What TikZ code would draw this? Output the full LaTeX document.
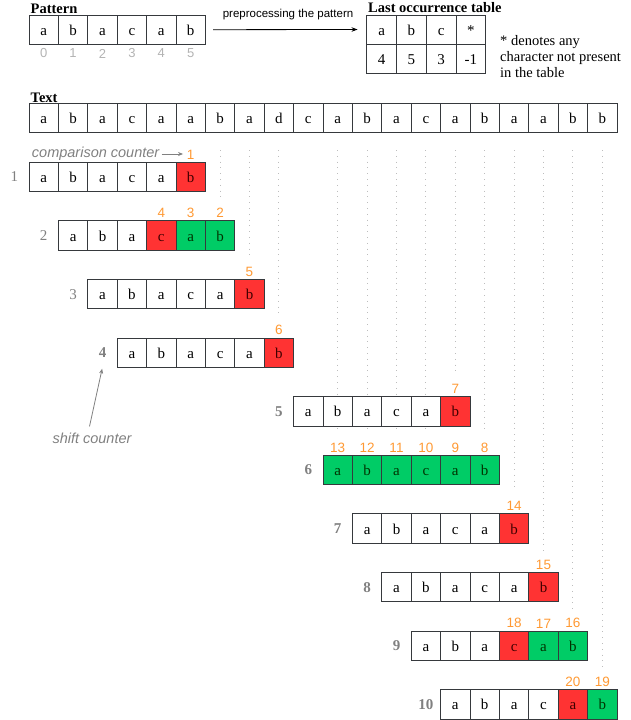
\documentclass[tikz,border=0pt]{standalone}
\usepackage{fontspec}
\setmainfont{Liberation Serif}
\setsansfont{Liberation Sans}
\usetikzlibrary{arrows.meta,positioning}
\definecolor{cellborder}{HTML}{36393D}
\definecolor{redfill}{HTML}{FF3333}
\definecolor{greenfill}{HTML}{00CC66}
\definecolor{orangetxt}{HTML}{FF9933}
\definecolor{graytxt}{HTML}{808080}
\definecolor{lightgraytxt}{HTML}{B3B3B3}
\definecolor{dotgray}{HTML}{BDBDBD}
\newcommand\patrow[3]{%
  \pgfmathsetmacro\rowy{162.3+58.6*(#1-1)+14.7}%
  \node[rownum] (n#1) at ({29+29.4*(#2-0.5)},\rowy) {\ifnum#1>3 \bfseries\fi#1};%
  \foreach \ch/\st [count=\i from 0] in {#3} {%
    \node[\st] (r#1c\i) at ({29+29.4*(#2+\i+0.5)},\rowy) {\ch};%
  }%
}
\begin{document}
\begin{tikzpicture}[x=1pt,y=-1pt,
  pcell/.style={draw=cellborder, line width=0.9pt, fill=white, minimum width=29.4pt, minimum height=29.4pt, inner sep=0pt, text height=11pt, text depth=0pt, font=\fontsize{15}{16}\selectfont},
  rcell/.style={pcell, fill=redfill, text=red!25!black},
  gcell/.style={pcell, fill=greenfill, text=green!20!black},
  tcell/.style={pcell, minimum width=29.75pt, minimum height=29pt},
  cnt/.style={font=\sffamily\fontsize{13.5}{14}\selectfont, text=orangetxt, inner sep=0pt},
  rownum/.style={font=\fontsize{15}{16}\selectfont, text=graytxt, inner sep=0pt},
  idx/.style={font=\sffamily\fontsize{13}{14}\selectfont, text=lightgraytxt, inner sep=0pt},
  heading/.style={font=\bfseries\fontsize{14.5}{16}\selectfont, inner sep=0pt, anchor=base west},
  note/.style={font=\sffamily\itshape\fontsize{14.5}{16}\selectfont, text=graytxt, inner sep=0pt},
  guide/.style={draw=dotgray, line width=0.9pt, dash pattern=on 0.9pt off 4.9pt},
  grayarrow/.style={draw=graytxt, line width=0.8pt, -{Stealth[length=5pt,width=4pt]}},
  blackarrow/.style={draw=black, line width=0.8pt, -{Stealth[length=6pt,width=4.5pt]}},
]
\useasboundingbox (0,0) rectangle (631,720);
% dotted guide lines
\foreach \c/\e in {6/198.9,7/257.5,8/316.1,10/433.3,11/433.3,12/433.3,13/433.3,14/374.7,15/433.3,16/491.9,17/550.5,18/609.1,19/667.7}
  \draw[guide] ({29+29.4*(\c+0.5)},150) -- ({29+29.4*(\c+0.5)},\e);
% pattern
\node[heading] (pattitle) at (30.5,13.5) {Pattern};
\foreach \ch [count=\i from 0] in {a,b,a,c,a,b} {
  \node[pcell] (p\i) at ({29+29.4*(\i+0.5)},29.7) {\ch};
  \node[idx] (pi\i) at ({29+29.4*(\i+0.5)},53.5) {\i};
}
% last occurrence table
\node[heading] (lottitle) at (368,12.7) {Last occurrence table};
\foreach \ch/\v [count=\i from 0] in {a/4,b/5,c/3,*/-1} {
  \node[tcell] (t\i) at ({366.7+29.75*(\i+0.5)},29.5) {\ch};
  \node[tcell] (v\i) at ({366.7+29.75*(\i+0.5)},58.5) {\v};
}
\node[font=\fontsize{14.5}{16}\selectfont, align=left, inner sep=0pt, anchor=north west] (starnote) at (500,35.5)
  {* denotes any\\character not present\\in the table};
% preprocessing arrow
\draw[blackarrow, shorten <=7.3pt, shorten >=8.7pt] (p5.east) -- (t0.west)
  node[pos=0.5, above=9pt, xshift=2pt, inner sep=0pt, font=\sffamily\fontsize{11.5}{13}\selectfont] (prelabel) {preprocessing the pattern};
% text
\node[heading] (texttitle) at (30.5,102) {Text};
\foreach \ch [count=\i from 0] in {a,b,a,c,a,a,b,a,d,c,a,b,a,c,a,b,a,a,b,b}
  \node[pcell] (x\i) at ({29+29.4*(\i+0.5)},118.2) {\ch};
% shifted pattern rows
\patrow{1}{0}{a/pcell,b/pcell,a/pcell,c/pcell,a/pcell,b/rcell}
\patrow{2}{1}{a/pcell,b/pcell,a/pcell,c/rcell,a/gcell,b/gcell}
\patrow{3}{2}{a/pcell,b/pcell,a/pcell,c/pcell,a/pcell,b/rcell}
\patrow{4}{3}{a/pcell,b/pcell,a/pcell,c/pcell,a/pcell,b/rcell}
\patrow{5}{9}{a/pcell,b/pcell,a/pcell,c/pcell,a/pcell,b/rcell}
\patrow{6}{10}{a/gcell,b/gcell,a/gcell,c/gcell,a/gcell,b/gcell}
\patrow{7}{11}{a/pcell,b/pcell,a/pcell,c/pcell,a/pcell,b/rcell}
\patrow{8}{12}{a/pcell,b/pcell,a/pcell,c/pcell,a/pcell,b/rcell}
\patrow{9}{13}{a/pcell,b/pcell,a/pcell,c/rcell,a/gcell,b/gcell}
\patrow{10}{14}{a/pcell,b/pcell,a/pcell,c/pcell,a/rcell,b/gcell}
% comparison counters
\foreach \k/\i/\lab in {1/5/1,2/3/4,2/4/3,2/5/2,3/5/5,4/5/6,5/5/7,6/0/13,6/1/12,6/2/11,6/3/10,6/4/9,6/5/8,7/5/14,8/5/15,9/3/18,9/4/17,9/5/16,10/4/20,10/5/19}
  \node[cnt, above=2.4pt of r\k c\i] (l\k c\i) {\lab};
% annotations
\node[note, anchor=east] (cc) at (159.5,154) {comparison counter};
\draw[grayarrow, shorten <=2.2pt, shorten >=3.7pt] (cc.east) -- (cc.east -| l1c5.west);
\node[note] (sc) at (92,438.8) {shift counter};
\draw[grayarrow, shorten <=7pt, shorten >=11pt] ([xshift=-4pt]sc.north) -- ([xshift=2pt]n4.south);
\end{tikzpicture}
\end{document}
